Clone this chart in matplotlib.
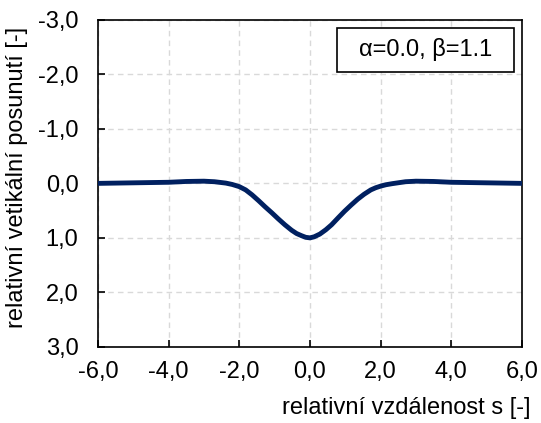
import matplotlib.pyplot as plt
from matplotlib.patches import Rectangle

plt.rcParams['font.family'] = ['Liberation Sans', 'DejaVu Sans']

# values (relative distance s, relative vertical displacement w)
s_vals = [-6.0, -5.5, -5.0, -4.5, -4.0, -3.5, -3.0, -2.7, -2.38, -2.2, -2.0, -1.82,
          -1.64, -1.45, -1.27, -1.08, -0.9, -0.71, -0.52, -0.38, -0.24, -0.12, 0.0,
          0.12, 0.28, 0.45, 0.61, 0.8, 0.98, 1.16, 1.35, 1.53, 1.72, 1.86, 2.0,
          2.15, 2.33, 2.7, 3.0, 3.5, 4.0, 4.5, 5.0, 5.5, 6.0]
w_vals = [0.0, -0.005, -0.01, -0.015, -0.02, -0.035, -0.04, -0.03, -0.005, 0.02, 0.06, 0.12,
          0.21, 0.32, 0.43, 0.54, 0.65, 0.76, 0.86, 0.92, 0.96, 0.99, 1.0,
          0.98, 0.93, 0.85, 0.76, 0.63, 0.51, 0.40, 0.29, 0.20, 0.12, 0.08, 0.05,
          0.025, 0.005, -0.03, -0.04, -0.035, -0.02, -0.015, -0.01, -0.005, 0.0]

x_ticks = [-6, -4, -2, 0, 2, 4, 6]
x_labels = ['-6,0', '-4,0', '-2,0', '0,0', '2,0', '4,0', '6,0']
y_ticks = [-3, -2, -1, 0, 1, 2, 3]
y_labels = ['-3,0', '-2,0', '-1,0', '0,0', '1,0', '2,0', '3,0']

fig = plt.figure(figsize=(5.41, 4.23), dpi=100)
ax = fig.add_axes([0.181, 0.180, 0.784, 0.773])

ax.plot(s_vals, w_vals, color='#002060', linewidth=3.5, solid_capstyle='round',
        solid_joinstyle='round', zorder=3)

ax.set_xlim(-6, 6)
ax.set_ylim(3, -3)
ax.set_xticks(x_ticks)
ax.set_xticklabels(x_labels)
ax.set_yticks(y_ticks)
ax.set_yticklabels(y_labels)

# dashed light grey grid
ax.grid(True, color='#D9D9D9', linestyle=(0, (4, 3)), linewidth=1.0)
ax.set_axisbelow(True)

for sp in ax.spines.values():
    sp.set_linewidth(1.2)
    sp.set_color('black')

ax.tick_params(axis='both', direction='in', length=5, width=1.2, labelsize=17, colors='black')
ax.tick_params(axis='y', pad=14)
ax.tick_params(axis='x', pad=10)

ax.set_xlabel('relativní vzdálenost s [-]', fontsize=17, ha='right', va='center')
ax.xaxis.set_label_coords(1.019, -0.186)
ax.set_ylabel('relativní vetikální posunutí [-]', fontsize=17, va='center', ha='center')
ax.yaxis.set_label_coords(-0.191, 0.517)

# box with parameters
ax.add_patch(Rectangle((0.564, 0.841), 0.417, 0.135, transform=ax.transAxes,
                       facecolor='white', edgecolor='black', linewidth=1.2, zorder=4))
ax.text(0.772, 0.908, 'α=0.0, β=1.1', transform=ax.transAxes, fontsize=17,
        ha='center', va='center', zorder=5)

fig.savefig('out.png', dpi=100)
